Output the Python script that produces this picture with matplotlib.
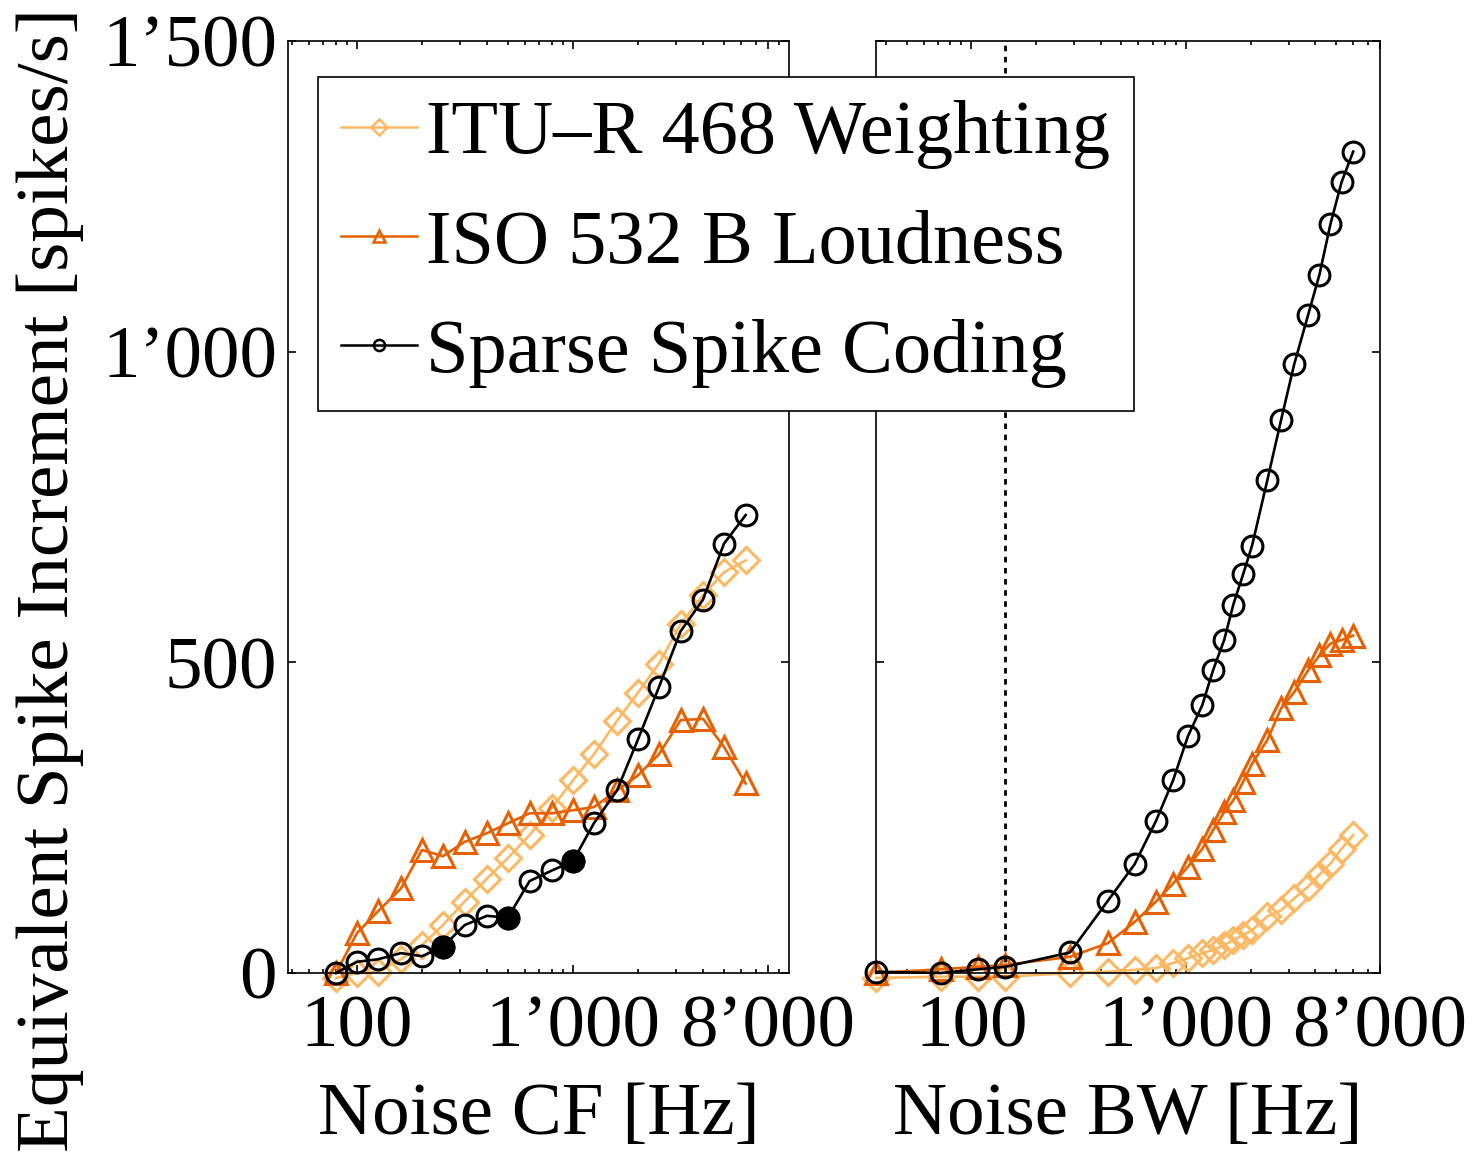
import numpy as np
import matplotlib.pyplot as plt
from matplotlib.lines import Line2D
from matplotlib.ticker import FixedLocator, LogLocator, NullFormatter, FuncFormatter

plt.rcParams['font.family'] = ['Liberation Serif', 'DejaVu Serif']

# left panel: noise centre frequency (third-octave steps)
cf = [80, 100, 125, 160, 200, 250, 315, 400, 500, 630, 800, 1000, 1250, 1600, 2000, 2500, 3150, 4000, 5000, 6300]
cf_itu = [-8, 0, 2, 22, 45, 77, 115, 152, 185, 222, 266, 310, 352, 406, 451, 498, 561, 608, 645, 664]
cf_iso = [0, 64, 99, 136, 198, 188, 211, 225, 241, 257, 257, 262, 267, 294, 318, 352, 407, 409, 364, 305]
cf_ssc = [0, 18, 22, 32, 27, 42, 77, 92, 89, 148, 165, 180, 241, 294, 376, 460, 550, 601, 691, 737]
cf_filled = [250, 500, 1000]

# right panel: noise bandwidth
bw = [36, 72, 108, 144, 288, 432, 576, 725, 870, 1020, 1190, 1335, 1505, 1660, 1845, 2030, 2390, 2770, 3190, 3700, 4180, 4700, 5300, 6000]
bw_itu = [-8, -6, -6, -6, 0, 2, 5, 8, 16, 24, 32, 37, 45, 53, 61, 69, 91, 101, 120, 139, 158, 176, 200, 222]
bw_iso = [0, 6, 10, 13, 26, 48, 82, 115, 144, 171, 200, 230, 259, 278, 308, 337, 375, 426, 452, 487, 511, 530, 536, 543]
bw_ssc = [2, 0, 6, 10, 33, 116, 175, 245, 310, 381, 431, 487, 536, 593, 642, 688, 793, 890, 980, 1059, 1124, 1205, 1273, 1322]
bw_mark = 144

labels = ['ITU\u2013R 468 Weighting', 'ISO 532 B Loudness', 'Sparse Spike Coding']
c_itu = '#fdb863'
c_iso = '#e66101'
c_ssc = 'black'

yticks = [0, 500, 1000, 1500]
xticks = [100, 1000, 8000]
fs = 54


def sep(v, pos=None):
    v = int(round(v))
    if v >= 1000:
        return '%d\u2019%03d' % (v // 1000, v % 1000)
    return '%d' % v


fig = plt.figure(figsize=(14.77, 11.59), dpi=100)
ax1 = fig.add_axes([288/1477, 1-973/1159, 501/1477, 932/1159])
ax2 = fig.add_axes([876/1477, 1-973/1159, 504/1477, 932/1159])

def panel(ax, x, itu, iso, ssc):
    kw = dict(lw=1.9, mew=2.2, mfc='none', clip_on=False)
    ax.plot(x, itu, color=c_itu, marker='D', ms=13, **kw)
    ax.plot(x, iso, color=c_iso, marker='^', ms=16, **kw)
    ax.plot(x, ssc, color=c_ssc, marker='o', ms=15, **kw)
    ax.set_xscale('log')
    ax.set_ylim(0, 1500)
    ax.xaxis.set_major_locator(FixedLocator(xticks))
    ax.xaxis.set_major_formatter(FuncFormatter(sep))
    ax.xaxis.set_minor_locator(LogLocator(base=10, subs=np.arange(2, 10), numticks=20))
    ax.xaxis.set_minor_formatter(NullFormatter())
    ax.yaxis.set_major_locator(FixedLocator(yticks))
    ax.tick_params(which='both', direction='in', top=True, right=True, width=1.2)
    ax.tick_params(which='major', length=6)
    ax.tick_params(which='minor', length=3)
    ax.tick_params(axis='x', labelsize=fs, pad=16)
    ax.tick_params(axis='y', labelsize=fs, pad=8)
    for s in ax.spines.values():
        s.set_linewidth(1.2)

panel(ax1, cf, cf_itu, cf_iso, cf_ssc)
# filled circles
fx = [f for f in cf if f in cf_filled]
fy = [cf_ssc[cf.index(f)] for f in fx]
ax1.plot(fx, fy, 'o', color='black', ms=15, mew=2.2, clip_on=False)
ax1.set_xlim(48, 10000)
ax1.yaxis.set_major_formatter(FuncFormatter(sep))
ax1.set_xlabel('Noise CF [Hz]', fontsize=fs, labelpad=14)

panel(ax2, bw, bw_itu, bw_iso, bw_ssc)
ax2.axvline(bw_mark, color='black', lw=2, ls=(0, (2, 2)))
ax2.set_xlim(36, 8000)
ax2.set_yticklabels([])
ax2.set_xlabel('Noise BW [Hz]', fontsize=fs, labelpad=14)

fig.text(50/1477, 0.5, 'Equivalent Spike Increment [spikes/s]', rotation=90,
         ha='center', va='center', fontsize=fs)

handles = [Line2D([], [], color=c_itu, marker='D', ms=8, mfc='none', mew=1.8, lw=1.8),
           Line2D([], [], color=c_iso, marker='^', ms=9, mfc='none', mew=1.8, lw=1.8),
           Line2D([], [], color=c_ssc, marker='o', ms=8, mfc='none', mew=1.8, lw=1.8)]
leg = fig.legend(handles, labels, loc='upper left', bbox_to_anchor=(318/1477, 1-77/1159),
                 fontsize=55, frameon=True, fancybox=False, edgecolor='black', framealpha=1,
                 handlelength=1.0, handletextpad=0.12, labelspacing=0.52, borderpad=0.3,
                 borderaxespad=0)
leg.get_frame().set_linewidth(1.2)

fig.savefig('out.png', dpi=100)
